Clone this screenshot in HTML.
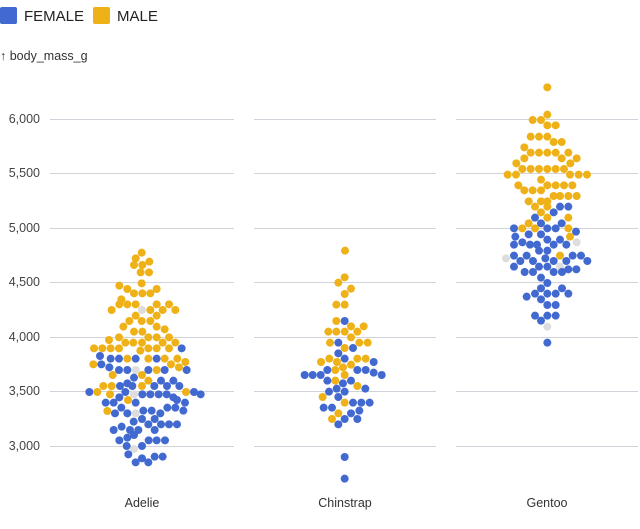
<!DOCTYPE html>
<html><head><meta charset="utf-8"><style>
body{margin:0;background:#fff;font-family:"Liberation Sans",sans-serif}
svg text{font-family:"Liberation Sans",sans-serif}
</style></head><body>
<svg id="s" width="640" height="524" viewBox="0 0 640 524">
<rect x="0" y="7" width="17" height="17" rx="2" fill="#4269d0"/>
<text x="24" y="21" font-size="15" fill="#222">FEMALE</text>
<rect x="93" y="7" width="17" height="17" rx="2" fill="#efb118"/>
<text x="117" y="21" font-size="15" fill="#222">MALE</text>
<text x="0" y="60" font-size="12.5" fill="#333">↑ body_mass_g</text>
<g id="grid" stroke="#d0d4da" stroke-width="1"></g>
<g id="ticks" font-size="12.5" fill="#444" text-anchor="end"></g>
<g font-size="12.5" fill="#333" text-anchor="middle">
<text x="142" y="507">Adelie</text><text x="345" y="507">Chinstrap</text><text x="547" y="507">Gentoo</text></g>
<g id="dots"></g>
</svg>
<script>
var NS="http://www.w3.org/2000/svg",s=document.getElementById('s');
function el(p,t,a,tx){var e=document.createElementNS(NS,t);for(var k in a)e.setAttribute(k,a[k]);if(tx)e.textContent=tx;document.getElementById(p).appendChild(e);}
var ys=[[3000,446],[3500,391],[4000,337],[4500,282],[5000,228],[5500,173],[6000,119]];
ys.forEach(function(v){[[50,234],[254,436],[456,638]].forEach(function(r){el('grid','line',{x1:r[0],x2:r[1],y1:v[1]+.5,y2:v[1]+.5});});
el('ticks','text',{x:40,y:v[1]+4},v[0].toLocaleString('en-US'));});
var C={O:'#efb118',B:'#4269d0',G:'#dddddd'};
function put(ox,oy,rows){rows.forEach(function(r){var y=r[0];for(var i=1;i<r.length;i+=2)el('dots','circle',{cx:ox+r[i]/3,cy:oy+y/3,r:4,fill:C[r[i+1]]});});}
put(80,240,[[38,185,'O'],[55,167,'O'],[65,208,'O'],[75,162,'O',187,'O'],[97,182,'O',207,'O'],[130,185,'O'],[137,118,'O'],[147,142,'O',230,'O'],[160,162,'O',187,'O',211,'O'],[178,124,'O'],[193,118,'O',142,'O',167,'O',230,'O',267,'O'],[210,95,'O',186,'G',211,'O',248,'O',286,'O'],[227,167,'O',230,'O'],[243,148,'O',185,'O',211,'O'],[260,130,'O',230,'O'],[268,254,'O'],[275,162,'O',187,'O'],[292,117,'O',205,'O',230,'O',267,'O'],[300,87,'O'],[308,136,'O',160,'O',186,'O',248,'O',286,'O'],[325,42,'O',67,'O',92,'O',117,'O',205,'O',230,'O',267,'O',305,'B'],[332,181,'O'],[348,60,'B'],[356,92,'B',117,'B',142,'O',167,'B',205,'O',230,'B',254,'O',292,'O'],[366,316,'O'],[373,40,'O',64,'B',273,'O'],[382,88,'B',297,'O'],[390,117,'B',142,'B',167,'G',205,'B',230,'O',254,'B',320,'B'],[405,98,'O',186,'O'],[413,162,'B'],[422,205,'O',243,'B',280,'B'],[430,142,'B'],[438,70,'O',95,'O',120,'B',157,'B',186,'O',223,'B',261,'B',298,'B'],[456,28,'B',52,'O',136,'B',318,'O',342,'B'],[463,90,'O',162,'G',187,'B',211,'B',236,'B',260,'B',362,'B'],[472,118,'B',280,'B'],[480,144,'O',291,'B'],[488,77,'B',101,'B',167,'B',315,'B'],[503,124,'B',262,'B',286,'B'],[512,190,'B',215,'B',310,'B'],[513,82,'O'],[520,105,'B',142,'B',167,'G',241,'B'],[537,186,'B',224,'B'],[545,161,'B'],[553,205,'B',243,'B',267,'B',291,'B'],[560,125,'B'],[570,101,'B',150,'B',175,'B',224,'B'],[585,162,'B'],[593,142,'B'],[601,118,'B',206,'B',230,'B',255,'B'],[618,140,'B',186,'B'],[627,162,'G'],[643,145,'B'],[650,224,'B',248,'B'],[655,186,'B'],[667,167,'B',205,'B']]);
put(490,80,[[22,172,'O'],[104,172,'O'],[120,128,'O',153,'O'],[136,172,'O',197,'O'],[170,122,'O',147,'O',172,'O'],[186,191,'O',215,'O'],[202,103,'O'],[218,122,'O',147,'O',172,'O',197,'O',235,'O'],[235,103,'O',215,'O',260,'O'],[250,79,'O',241,'O'],[267,97,'O',122,'O',147,'O',172,'O',197,'O',222,'O'],[284,53,'O',78,'O',240,'O',266,'O',291,'O'],[299,153,'O'],[316,85,'O',172,'O',197,'O',222,'O',247,'O'],[331,103,'O',128,'O',153,'O'],[348,191,'O',210,'O',235,'O',260,'O'],[364,116,'O',153,'O',172,'O'],[380,135,'O',172,'O',210,'B',235,'B'],[397,153,'O',191,'B'],[413,135,'B',172,'O',235,'O'],[430,116,'O',153,'B',215,'B'],[445,72,'B',97,'O',135,'O',172,'B',197,'B',235,'O'],[455,258,'B'],[463,116,'B',153,'B'],[470,76,'B',240,'O'],[479,172,'B',210,'B'],[487,97,'B',260,'G'],[494,72,'B',120,'B',141,'B',191,'B',229,'B'],[512,147,'B',172,'B'],[527,72,'B',110,'B',210,'O',248,'B',273,'B'],[535,48,'G',166,'B'],[543,91,'B',129,'B',191,'B',229,'B',292,'B'],[560,72,'B',147,'B',172,'B',210,'G'],[568,235,'B',259,'B'],[576,104,'B',129,'B',191,'B',216,'B'],[593,153,'B'],[609,172,'B'],[625,153,'B',216,'B'],[641,135,'B',172,'B',197,'B',235,'B'],[650,110,'B'],[658,153,'B'],[675,172,'B',197,'B'],[707,135,'B',172,'B',197,'B'],[722,153,'B'],[740,172,'G'],[788,172,'B']]);
put(290,240,[[32,165,'O'],[112,164,'O'],[128,145,'O'],[146,183,'O'],[162,164,'O'],[194,139,'O',164,'O'],[243,139,'O',164,'B'],[259,183,'O',221,'O'],[275,115,'O',139,'O',164,'O',202,'O'],[292,183,'O'],[308,120,'O',145,'B',208,'O',233,'O'],[324,164,'O',189,'B'],[340,145,'B'],[356,118,'O',164,'B',202,'O',227,'O'],[366,93,'O',141,'O',251,'B'],[374,183,'O'],[382,159,'O'],[390,112,'B',136,'O',202,'B',227,'B'],[398,251,'B'],[405,44,'B',68,'B',92,'B',164,'O',275,'B'],[422,112,'B',136,'O',183,'B'],[430,159,'B'],[438,202,'O'],[446,140,'B',226,'B'],[455,117,'B',164,'B'],[471,98,'O',145,'B'],[488,164,'O',189,'B',214,'B',239,'B'],[503,101,'B',126,'B'],[512,208,'B'],[520,145,'O',183,'B'],[537,126,'O',164,'B',202,'B'],[553,145,'B'],[651,164,'B'],[716,164,'B']]);
</script>
</body></html>
